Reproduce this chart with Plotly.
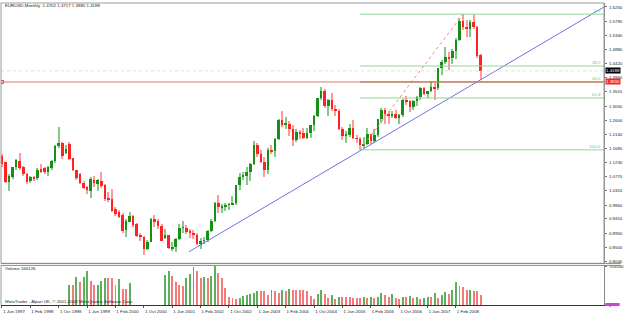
import plotly.graph_objects as go

# ---------------- data (monthly EURUSD, Jun 1997 .. Sep 2008) ----------------
open_ = [1.1426,1.1234,1.0595,1.0755,1.1075,1.1270,1.1075,1.0851,1.0627,1.0755,
         1.0723,1.1011,1.1043,1.0915,1.1043,1.1266,1.1778,1.1873,1.1554,1.1841,
         1.1362,1.0979,1.0851,1.0563,1.0436,1.0308,1.0659,1.0531,1.0627,1.0500,
         1.0052,1.0052,0.9733,0.9637,0.9541,0.9062,0.9317,0.9509,0.9253,0.8870,
         0.8838,0.8455,0.8678,0.9413,0.9349,0.9190,0.8780,0.8880,0.8460,0.8500,
         0.8760,0.9120,0.9120,0.9000,0.8970,0.8880,0.8590,0.8700,0.8720,0.9010,
         0.9350,0.9920,0.9780,0.9810,0.9860,0.9890,0.9930,1.0490,1.0770,1.0790,
         1.0910,1.1170,1.1790,1.1500,1.1240,1.0990,1.1650,1.1600,1.2000,1.2590,
         1.2450,1.2480,1.2300,1.1970,1.2200,1.2170,1.2030,1.2170,1.2430,1.2740,
         1.3300,1.3550,1.3040,1.3250,1.2960,1.2880,1.2300,1.2100,1.2125,1.2340,
         1.2020,1.1990,1.1790,1.1840,1.2150,1.1920,1.2115,1.2625,1.2920,1.2790,
         1.2760,1.2810,1.2670,1.2760,1.3245,1.3200,1.3025,1.3230,1.3355,1.3650,
         1.3450,1.3530,1.3680,1.3630,1.4265,1.4485,1.4640,1.4590,1.4845,1.5190,
         1.5790,1.5600,1.5545,1.5750,1.5600,1.4702]
high = [1.1490,1.1260,1.0850,1.1100,1.1330,1.1522,1.1110,1.0900,1.0800,1.0800,
        1.1050,1.1170,1.1080,1.1110,1.1300,1.1810,1.2385,1.1900,1.1800,1.1900,
        1.1380,1.1000,1.0900,1.0620,1.0480,1.0750,1.0800,1.0700,1.0915,1.0540,
        1.0276,1.0372,0.9800,0.9700,0.9600,0.9400,0.9650,0.9550,0.9280,0.8950,
        0.8870,0.8720,0.9450,0.9541,0.9400,0.9250,0.9100,0.8900,0.8680,0.8810,
        0.9240,0.9330,0.9200,0.9100,0.9050,0.8950,0.8780,0.8840,0.9050,0.9400,
        0.9970,1.0190,0.9900,0.9930,0.9940,1.0150,1.0500,1.0880,1.0940,1.1080,
        1.1230,1.1930,1.1870,1.1650,1.1420,1.1700,1.1800,1.2010,1.2650,1.2900,
        1.2700,1.2560,1.2440,1.2300,1.2270,1.2350,1.2330,1.2440,1.2760,1.3310,
        1.3667,1.3600,1.3280,1.3480,1.3090,1.2960,1.2380,1.2250,1.2480,1.2590,
        1.2110,1.2040,1.2040,1.2330,1.2150,1.2300,1.2650,1.2980,1.2980,1.2900,
        1.2900,1.2940,1.2790,1.3290,1.3367,1.3250,1.3250,1.3370,1.3680,1.3680,
        1.3540,1.3850,1.3790,1.4280,1.4530,1.4965,1.4790,1.4890,1.5240,1.5905,
        1.6019,1.5820,1.5840,1.6038,1.5640,1.4717]
low = [1.1100,1.0560,1.0308,1.0700,1.1000,1.1000,1.0800,1.0550,1.0560,1.0640,
       1.0680,1.0900,1.0870,1.0787,1.0980,1.1200,1.1700,1.1350,1.1500,1.1300,
       1.0950,1.0670,1.0550,1.0370,1.0200,1.0100,1.0450,1.0300,1.0400,1.0000,
       0.9956,0.9640,0.9500,0.9450,0.8950,0.8838,0.9300,0.9150,0.8820,0.8710,
       0.8231,0.8400,0.8650,0.9150,0.9100,0.8700,0.8750,0.8430,0.8380,0.8344,
       0.8730,0.8950,0.8930,0.8800,0.8750,0.8560,0.8450,0.8600,0.8650,0.8980,
       0.9300,0.9600,0.9610,0.9680,0.9690,0.9870,0.9860,1.0340,1.0680,1.0500,
       1.0620,1.1160,1.1420,1.1220,1.0765,1.0850,1.1490,1.1400,1.1950,1.2380,
       1.2300,1.2080,1.1760,1.1900,1.1990,1.2000,1.2000,1.2010,1.2240,1.2700,
       1.3250,1.2980,1.2730,1.2880,1.2740,1.2290,1.1950,1.1870,1.2050,1.1990,
       1.1870,1.1640,1.1710,1.1800,1.1830,1.1860,1.2070,1.2520,1.2460,1.2460,
       1.2660,1.2620,1.2480,1.2700,1.3080,1.2865,1.2930,1.3070,1.3250,1.3400,
       1.3300,1.3500,1.3260,1.3570,1.4070,1.4420,1.4210,1.4400,1.4580,1.5150,
       1.5520,1.5285,1.5280,1.5530,1.4600,1.3880]
close = [1.1170,1.0595,1.0787,1.1075,1.1298,1.1043,1.0851,1.0595,1.0755,1.0723,
         1.0979,1.0947,1.0915,1.1075,1.1266,1.1778,1.1873,1.1426,1.1682,1.1330,
         1.0979,1.0723,1.0563,1.0404,1.0340,1.0691,1.0563,1.0659,1.0468,1.0052,
         1.0040,0.9669,0.9573,0.9477,0.9030,0.9349,0.9509,0.9222,0.8870,0.8838,
         0.8455,0.8678,0.9413,0.9317,0.9190,0.8710,0.8880,0.8460,0.8500,0.8760,
         0.9120,0.9130,0.9000,0.8970,0.8880,0.8590,0.8700,0.8720,0.9010,0.9350,
         0.9920,0.9780,0.9810,0.9860,0.9890,0.9930,1.0490,1.0770,1.0790,1.0910,
         1.1170,1.1790,1.1500,1.1240,1.0990,1.1650,1.1600,1.2000,1.2590,1.2450,
         1.2480,1.2300,1.1970,1.2200,1.2170,1.2030,1.2170,1.2430,1.2740,1.3300,
         1.3550,1.3040,1.3250,1.2960,1.2880,1.2300,1.2100,1.2125,1.2340,1.2020,
         1.1990,1.1790,1.1840,1.2150,1.1920,1.2115,1.2625,1.2920,1.2790,1.2760,
         1.2810,1.2670,1.2760,1.3245,1.3200,1.3025,1.3230,1.3355,1.3650,1.3450,
         1.3530,1.3680,1.3630,1.4265,1.4485,1.4640,1.4590,1.4845,1.5190,1.5790,
         1.5600,1.5545,1.5750,1.5600,1.4675,1.4188]

N = None
volume = [N]*19 + [
    360000,348000,498000,420000,498000,612000,432000,348000,360000,432000,
    492000,492000,480000,360000,468000,288000,288000,384000] + [N]*9 + [
    540000,612000,522000,402000,348000,330000,480000,558000,678000,618000,
    492000,510000,480000,522000,703550,570000,480000,300000,132000,120000,
    108000,120000,150000,180000,192000,210000,252000,252000,240000,180000,
    270000,240000,210000,258000,252000,282000,270000,270000,
    258000,258000,240000,150000,108000,192000,258000,192000,120000,168000,
    108000,132000,132000,132000,132000,120000,120000,120000,132000,120000,
    132000,120000,132000,210000,180000,132000,192000,120000,108000,132000,
    132000,150000,120000,132000,102000,120000,138000,132000,210000,120000,
    180000,228000,192000,258000,408000,330000,318000,258000,270000,252000,
    240000,166126]

date_labels = ["1 Jun 1997","1 Feb 1998","1 Oct 1998","1 Jun 1999","1 Feb 2000",
               "1 Oct 2000","1 Jun 2001","1 Feb 2002","1 Oct 2002","1 Jun 2003",
               "1 Feb 2004","1 Oct 2004","1 Jun 2005","1 Feb 2006","1 Oct 2006",
               "1 Jun 2007","1 Feb 2008"]
label_step = 8
price_ticks = [1.6250,1.5790,1.5340,1.4880,1.4420,1.3960,1.3510,1.3050,1.2600,1.2140,
               1.1680,1.1230,1.0770,1.0320,0.9860,0.9410,0.8950,0.8500,0.8040]
volume_max_label = 703550

title_text = "EURUSD,Monthly  1.4702 1.4717 1.3880 1.4188"
volume_text = "Volume 166126"
copyright_text = "MetaTrader - Alpari UK, \u00a9 2001-2008 MetaQuotes Software Corp."

# chart objects
trend_x = [52.7, 169.75]
trend_y = [0.835, 1.625]
fib_x = [101, 130]
fib_y = [1.1640, 1.6019]
fib_levels = [0.0, 38.2, 50.0, 61.8, 100.0]
hline_price = 1.3830
bid_price = 1.4188

# ---------------- figure ----------------
W, H = 625, 315
ML, MR, MT, MB = 1, 17, 2, 8
XR = [-0.28, 169.75]
plot_h = H - MT - MB


def py(pix):
    return (H - MB - pix) / plot_h


n = list(range(len(close)))
up = [c >= o for o, c in zip(open_, close)]
GREEN, RED = "#168f16", "#ff2222"
GW, RW = "#86c886", "#ff9a9a"

fig = go.Figure()
fig.add_trace(go.Bar(x=n, y=[h - l for h, l in zip(high, low)], base=low, width=0.3,
                     marker=dict(color=[GW if u else RW for u in up], line=dict(width=0)),
                     xaxis="x", yaxis="y", hoverinfo="skip"))
fig.add_trace(go.Bar(x=n, y=[max(abs(c - o), 0.0028) for o, c in zip(open_, close)],
                     base=[min(o, c) for o, c in zip(open_, close)], width=0.72,
                     marker=dict(color=[GREEN if u else RED for u in up], line=dict(width=0)),
                     xaxis="x", yaxis="y"))

vcol = []
prev = None
for v in volume:
    if v is None:
        vcol.append(GREEN)
    else:
        vcol.append("#5cb05c" if (prev is None or v > prev) else "#f27a7a")
    prev = v
fig.add_trace(go.Bar(x=n, y=volume, width=0.27, marker=dict(color=vcol, line=dict(width=0)),
                     xaxis="x", yaxis="y2"))

# trendline
fig.add_trace(go.Scatter(x=trend_x, y=trend_y, mode="lines",
                         line=dict(color="#7070e8", width=1), xaxis="x", yaxis="y"))
# fibo diagonal
fig.add_trace(go.Scatter(x=fib_x, y=fib_y, mode="lines",
                         line=dict(color="#f08a8a", width=1, dash="dot"), xaxis="x", yaxis="y"))
# red horizontal line marker
fig.add_trace(go.Scatter(x=[0], y=[hline_price], mode="markers",
                         marker=dict(symbol="square-open", size=3, color="#e04040",
                                     line=dict(width=1, color="#e04040")),
                         xaxis="x", yaxis="y"))

shapes = []
# bid line
shapes.append(dict(type="line", xref="paper", yref="y", x0=0, x1=1, y0=bid_price, y1=bid_price,
                   line=dict(color="#dedede", width=1, dash="dot")))
# red horizontal line
shapes.append(dict(type="line", xref="paper", yref="y", x0=0, x1=1, y0=hline_price, y1=hline_price,
                   line=dict(color="#f07070", width=1)))
annotations = []
fhi, flo = fib_y[1], fib_y[0]
for lv in fib_levels:
    p = fhi - lv / 100.0 * (fhi - flo)
    col = "#a87a30" if lv == 50.0 else "#8fd88f"
    shapes.append(dict(type="line", xref="x", yref="y", x0=fib_x[0], x1=XR[1], y0=p, y1=p,
                       line=dict(color=col, width=1)))
    annotations.append(dict(x=XR[1] - 0.3, y=p, xref="x", yref="y", text="%.1f" % lv,
                            showarrow=False, xanchor="right", yanchor="bottom", yshift=-1,
                            font=dict(size=4.4, color="#6cc86c")))

main_bottom = py(265)
vol_top = py(267)
# frame and pane separators
shapes.append(dict(type="rect", xref="paper", yref="paper", x0=0, x1=1, y0=main_bottom, y1=1,
                   line=dict(color="#9a9a9a", width=1)))
for yy in (main_bottom, vol_top):
    shapes.append(dict(type="line", xref="paper", yref="paper", x0=0, x1=1 + MR / (W - ML - MR),
                       y0=yy, y1=yy, line=dict(color="#8a8a8a", width=1)))
shapes.append(dict(type="line", xref="paper", yref="paper", x0=0, x1=0, y0=0, y1=vol_top,
                   line=dict(color="#9a9a9a", width=1)))
shapes.append(dict(type="rect", xref="paper", yref="paper", x0=1.002, x1=1.026,
                   y0=py(308), y1=py(305), fillcolor="#cc44dd", line=dict(width=0)))

# right-axis price boxes
for price, bg in ((bid_price, "#000000"), (hline_price, "#ff2020")):
    annotations.append(dict(x=1, y=price, xref="paper", yref="y", text="%.4f" % price,
                            showarrow=False, xanchor="left", xshift=1, bgcolor=bg,
                            borderpad=0, font=dict(size=4.4, color="#ffffff")))

txt_font = dict(size=4.4, color="#222222", family="Liberation Sans")
annotations.append(dict(x=(3 - ML) / (W - ML - MR), y=py(5), xref="paper", yref="paper",
                        text=title_text, showarrow=False, xanchor="left", yanchor="middle",
                        font=txt_font))
annotations.append(dict(x=(3 - ML) / (W - ML - MR), y=py(270), xref="paper", yref="paper",
                        text=volume_text, showarrow=False, xanchor="left", yanchor="middle",
                        font=txt_font))
annotations.append(dict(x=(3 - ML) / (W - ML - MR), y=py(303), xref="paper", yref="paper",
                        text=copyright_text, showarrow=False, xanchor="left", yanchor="middle",
                        font=txt_font))

tick_font = dict(size=4.4, color="#222222", family="Liberation Sans")
fig.update_layout(
    width=W, height=H, autosize=False,
    margin=dict(l=ML, r=MR, t=MT, b=MB, pad=0),
    paper_bgcolor="white", plot_bgcolor="white",
    showlegend=False, barmode="overlay", bargap=0,
    font=dict(family="Liberation Sans", size=4.4, color="#222222"),
    xaxis=dict(domain=[0, 1], range=XR, anchor="y2",
               tickmode="array", tickvals=[i * label_step for i in range(len(date_labels))],
               ticktext=date_labels, ticks="outside", ticklen=2, tickcolor="#555555",
               tickfont=tick_font, ticklabelshift=12, ticklabelstandoff=0,
               showline=True, linecolor="#3a2860", linewidth=1,
               showgrid=False, zeroline=False, fixedrange=True),
    yaxis=dict(domain=[main_bottom, 1], range=[0.7975, 1.6378], side="right", anchor="x",
               tickmode="array", tickvals=price_ticks, ticktext=["%.4f" % t for t in price_ticks],
               ticks="outside", ticklen=2, tickcolor="#777777", tickfont=tick_font,
               ticklabelstandoff=1,
               showline=True, linecolor="#8a8a8a", showgrid=False, zeroline=False),
    yaxis2=dict(domain=[0, vol_top], range=[0, 720000], side="right", anchor="x",
                tickmode="array", tickvals=[0, volume_max_label],
                ticktext=["0", str(volume_max_label)],
                ticks="outside", ticklen=2, tickcolor="#777777", tickfont=tick_font,
                ticklabelstandoff=1,
                showline=True, linecolor="#8a8a8a", showgrid=False, zeroline=False),
    shapes=shapes, annotations=annotations,
)

fig.write_html("out.html")
